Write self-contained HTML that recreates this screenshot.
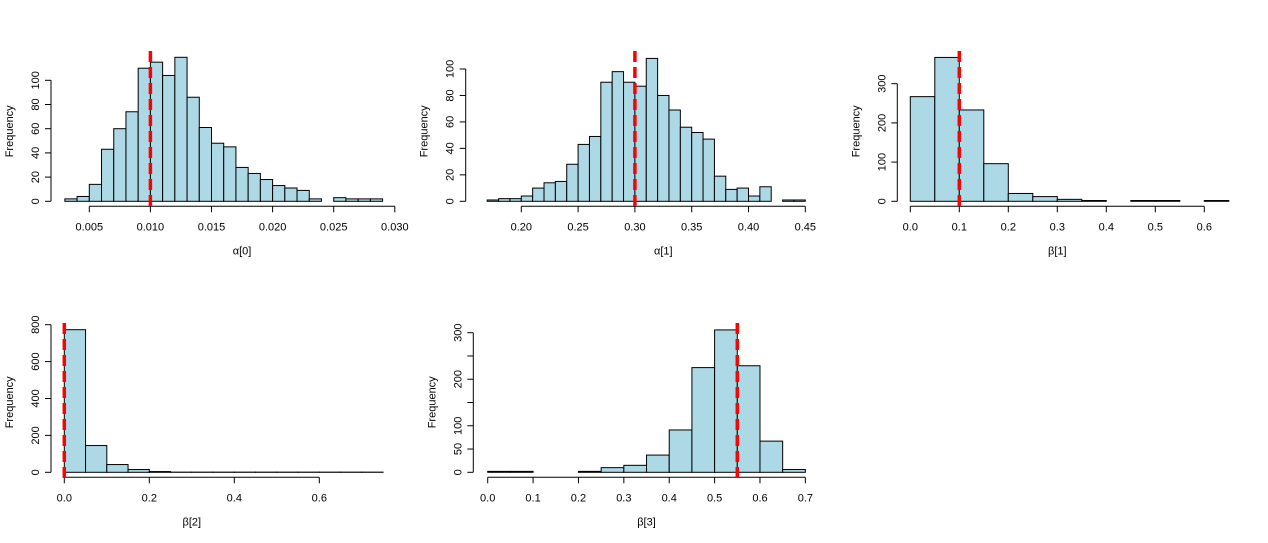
<!DOCTYPE html>
<html><head><meta charset="utf-8"><style>
body{margin:0;background:#fff;}
svg{display:block;font-family:"Liberation Sans",Arial,sans-serif;}
</style></head><body>
<svg id="c" width="1268" height="543" viewBox="0 0 1268 543"></svg>
<script>
// panel 1: alpha[0]
const a0Breaks0 = 0.003, a0Step = 0.001;
const a0Counts = [2,4,14,43,60,74,110,115,104,119,86,61,48,45,28,23,18,13,11,9,2,0,3,2,2,2];
const a0XTicks = [0.005,0.010,0.015,0.020,0.025,0.030];
const a0XLabels = ["0.005","0.010","0.015","0.020","0.025","0.030"];
const a0YTicks = [0,20,40,60,80,100];
const a0YLabels = ["0","20","40","60","80","100"];
const a0True = 0.010;
// panel 2: alpha[1]
const a1Breaks0 = 0.17, a1Step = 0.01;
const a1Counts = [1,2,2,4,10,14,15,28,43,49,90,98,90,87,108,80,69,56,52,47,19,9,10,4,11,0,1,1];
const a1XTicks = [0.20,0.25,0.30,0.35,0.40,0.45];
const a1XLabels = ["0.20","0.25","0.30","0.35","0.40","0.45"];
const a1YTicks = [0,20,40,60,80,100];
const a1YLabels = ["0","20","40","60","80","100"];
const a1True = 0.30;
// panel 3: beta[1]
const b1Breaks0 = 0, b1Step = 0.05;
const b1Counts = [267,367,233,96,20,12,5,2,0,2,2,0,2];
const b1XTicks = [0,0.1,0.2,0.3,0.4,0.5,0.6];
const b1XLabels = ["0.0","0.1","0.2","0.3","0.4","0.5","0.6"];
const b1YTicks = [0,100,200,300];
const b1YLabels = ["0","100","200","300"];
const b1True = 0.10;
// panel 4: beta[2]
const b2Breaks0 = 0, b2Step = 0.05;
const b2Counts = [773,145,42,15,4,1,1,1,1,1,1,1,1,1,1];
const b2XTicks = [0,0.2,0.4,0.6];
const b2XLabels = ["0.0","0.2","0.4","0.6"];
const b2YTicks = [0,200,400,600,800];
const b2YLabels = ["0","200","400","600","800"];
const b2True = 0.0;
// panel 5: beta[3]
const b3Breaks0 = 0, b3Step = 0.05;
const b3Counts = [2,2,0,0,2,10,15,37,91,225,306,229,67,6];
const b3XTicks = [0,0.1,0.2,0.3,0.4,0.5,0.6,0.7];
const b3XLabels = ["0.0","0.1","0.2","0.3","0.4","0.5","0.6","0.7"];
const b3YTicks = [0,50,100,150,200,250,300];
const b3YLabels = ["0","50","100","","200","","300"];
const b3True = 0.55;

const svg = document.getElementById('c');
const NS = 'http://www.w3.org/2000/svg';
function mk(tag, attrs, parent){const e=document.createElementNS(NS,tag);for(const k in attrs)e.setAttribute(k,attrs[k]);parent.appendChild(e);return e;}

function panel(o){
  const g = mk('g',{},svg);
  
  
  const X = v => o.x0px + (v - o.x0v) * o.xk;
  const Y = v => o.y0px - v * o.yk;
  o.counts.forEach((c,i)=>{
    const a = o.b0 + i*o.step, b = a + o.step;
    const r = mk('rect',{x:X(a),y:Y(c),width:X(b)-X(a),height:Y(0)-Y(c),fill:'#ADD8E6',stroke:'#000','stroke-width':1},g);
    
    
  });
  // x axis
  const xa = mk('g',{},g);
  
  
  const ay = o.y0px + 5;
  mk('line',{x1:X(o.xt[0]),x2:X(o.xt[o.xt.length-1]),y1:ay,y2:ay,stroke:'#000'},xa);
  o.xt.forEach((t,i)=>{
    mk('line',{x1:X(t),x2:X(t),y1:ay,y2:ay+6,stroke:'#000'},xa);
    const tx = mk('text',{x:X(t),y:ay+24,'font-size':11,'text-anchor':'middle'},xa);
    tx.textContent = o.xl[i];
  });
  const xt = mk('text',{x:(X(o.xt[0])+X(o.xt[o.xt.length-1]))/2,y:o.y0px+53,'font-size':11,'text-anchor':'middle'},g);
  xt.textContent = o.title;
  
  
  // y axis
  const ya = mk('g',{},g);
  
  
  mk('line',{x1:o.yax,x2:o.yax,y1:Y(o.yt[0]),y2:Y(o.yt[o.yt.length-1]),stroke:'#000'},ya);
  o.yt.forEach((t,i)=>{
    mk('line',{x1:o.yax,x2:o.yax-6,y1:Y(t),y2:Y(t),stroke:'#000'},ya);
    if(o.yl[i]){
      const tx = mk('text',{x:0,y:0,'font-size':11,'text-anchor':'middle',transform:`translate(${o.yax-12},${Y(t)}) rotate(-90)`},ya);
      tx.textContent = o.yl[i];
    }
  });
  const yt = mk('text',{x:0,y:0,'font-size':11,'text-anchor':'middle',transform:`translate(${o.yax-38},${o.y0px-70}) rotate(-90)`},g);
  yt.textContent = 'Frequency';
  
  
  // true value line
  const rl = mk('line',{x1:X(o.tv),x2:X(o.tv),y1:o.top,y2:o.y0px+6,stroke:'#FF0000','stroke-width':3.5,'stroke-dasharray':'11 5'},g);
  
  
}

panel({name:'hist-alpha0',title:'α[0]',counts:a0Counts,b0:a0Breaks0,step:a0Breaks0?a0Step:a0Step,xt:a0XTicks,xl:a0XLabels,yt:a0YTicks,yl:a0YLabels,tv:a0True,
  x0px:89.3,x0v:0.005,xk:61.1/0.005,y0px:201.3,yk:1.21,yax:51,top:51});
panel({name:'hist-alpha1',title:'α[1]',counts:a1Counts,b0:a1Breaks0,step:a1Step,xt:a1XTicks,xl:a1XLabels,yt:a1YTicks,yl:a1YLabels,tv:a1True,
  x0px:521.3,x0v:0.20,xk:1136,y0px:201.3,yk:1.323,yax:465.7,top:51});
panel({name:'hist-beta1',title:'β[1]',counts:b1Counts,b0:b1Breaks0,step:b1Step,xt:b1XTicks,xl:b1XLabels,yt:b1YTicks,yl:b1YLabels,tv:b1True,
  x0px:910.3,x0v:0,xk:490,y0px:201.3,yk:0.392,yax:897.3,top:51});
panel({name:'hist-beta2',title:'β[2]',counts:b2Counts,b0:b2Breaks0,step:b2Step,xt:b2XTicks,xl:b2XLabels,yt:b2YTicks,yl:b2YLabels,tv:b2True,
  x0px:64.3,x0v:0,xk:425,y0px:472.3,yk:0.1845,yax:51,top:323});
panel({name:'hist-beta3',title:'β[3]',counts:b3Counts,b0:b3Breaks0,step:b3Step,xt:b3XTicks,xl:b3XLabels,yt:b3YTicks,yl:b3YLabels,tv:b3True,
  x0px:487.7,x0v:0,xk:453.8,y0px:472.3,yk:0.4653,yax:473.3,top:323});
</script>
</body></html>
